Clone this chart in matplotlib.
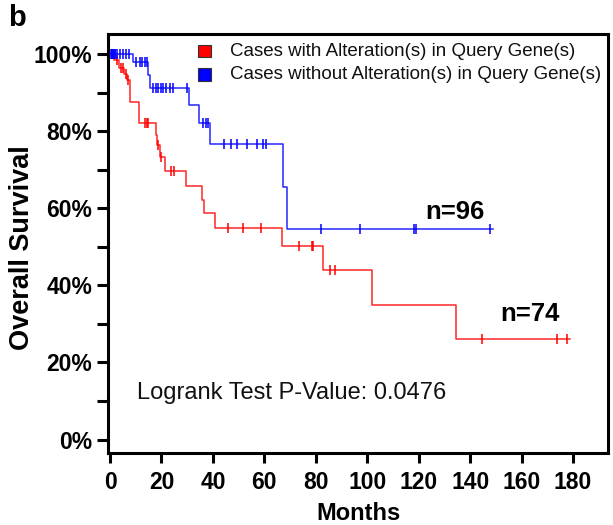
import numpy as np
import matplotlib
matplotlib.use("Agg")
import matplotlib.pyplot as plt
from matplotlib.patches import Rectangle

plt.rcParams['font.family'] = ['Liberation Sans', 'DejaVu Sans']

# ---- data (months, survival %) ----
red_event_t = [1.5, 3.4, 5.6, 6.8, 7.8, 11.4, 17.9, 18.4, 19.4, 21.4, 29.6, 35.7,
               36.5, 40.8, 66.8, 82.7, 101.7, 134.5]
red_event_s = [98.6, 96.4, 95.0, 93.4, 87.7, 82.1, 79.0, 76.5, 73.4, 69.7, 65.9, 62.2,
               58.7, 54.8, 50.2, 43.9, 34.9, 26.1]
red_end = 179.0
red_cens = [2.8, 4.4, 5.2, 6.2, 7.1, 13.6, 14.3, 14.9, 18.8, 20.0, 23.7, 24.9, 45.8,
            51.8, 58.8, 73.5, 78.4, 78.9, 85.5, 87.6, 144.6, 173.7, 177.6]

blue_event_t = [9.1, 14.9, 15.6, 30.8, 34.7, 38.9, 67.4, 68.7]
blue_event_s = [97.9, 94.6, 91.3, 86.8, 82.2, 76.7, 65.6, 54.6]
blue_end = 149.0
blue_cens = [0.3, 0.6, 0.9, 1.2, 1.5, 1.8, 2.1, 2.8, 3.9, 5.2, 6.1, 7.4, 10.0, 11.7,
             12.6, 13.5, 14.3, 16.7, 17.8, 18.8, 19.7, 20.6, 21.7, 23.3, 24.4, 30.1,
             36.0, 37.3, 38.2, 44.3, 46.9, 49.3, 53.1, 57.0, 59.6, 60.5, 81.9, 97.2,
             118.3, 119.0, 147.7]

legend_labels = ["Cases with Alteration(s) in Query Gene(s)",
                 "Cases without Alteration(s) in Query Gene(s)"]
x_ticks = [0, 20, 40, 60, 80, 100, 120, 140, 160, 180]
y_ticks = [0, 20, 40, 60, 80, 100]
y_tick_labels = ["0%", "20%", "40%", "60%", "80%", "100%"]

RED = '#ff0000'
BLUE = '#0000ff'

fig = plt.figure(figsize=(6.13, 5.25), dpi=100)
ax = fig.add_axes([108/613, 1-453/525, (608-108)/613, (453-34)/525])


def km(ax, et, es, end, cens, color):
    t = np.array([0] + list(et) + [end])
    s = np.array([100] + list(es) + [es[-1]])
    ax.step(t, s, where='post', color=color, lw=1.1, alpha=0.85, zorder=3)
    ct = np.array(cens)
    idx = np.searchsorted(t, ct, side='right') - 1
    ax.plot(ct, s[idx], ls='none', marker='|', ms=7, mew=1.1, color=color, zorder=4)


km(ax, red_event_t, red_event_s, red_end, red_cens, RED)
km(ax, blue_event_t, blue_event_s, blue_end, blue_cens, BLUE)

ax.set_xlim(-0.78, 193.6)
ax.set_ylim(-3.5, 105.3)
ax.set_xticks(x_ticks)
ax.set_xticklabels([str(v) for v in x_ticks], fontsize=16.5, fontweight='bold')
ax.set_yticks(y_ticks)
ax.set_yticklabels(y_tick_labels, fontsize=16.5, fontweight='bold')
ax.set_yticks(np.arange(10, 100, 20), minor=True)
ax.tick_params(axis='y', which='both', length=8, width=2.2, pad=3.5, direction='out')
ax.tick_params(axis='x', which='major', length=7, width=2.2, pad=6, direction='out')
for sp in ax.spines.values():
    sp.set_linewidth(2.2)
    sp.set_color('black')

ax.set_xlabel("Months", fontsize=17, fontweight='bold', labelpad=6)
ax.set_ylabel("Overall Survival", fontsize=19.5, fontweight='bold')
ax.yaxis.set_label_coords(-0.146, 0.49)

ax.text(134, 56.0, "n=96", fontsize=18.5, fontweight='bold', ha='center', va='bottom')
ax.text(163.3, 29.5, "n=74", fontsize=18.5, fontweight='bold', ha='center', va='bottom')
ax.text(10.5, 12.1, "Logrank Test P-Value: 0.0476", fontsize=17, ha='left', va='center',
        color='#111111')

# legend (figure pixel placement)
for i, (lab, col) in enumerate(zip(legend_labels, [RED, BLUE])):
    yc = 51 + i * 23.5
    fig.patches.append(Rectangle((198/613, 1-(yc+6)/525), 13/613, 12/525,
                                 transform=fig.transFigure, facecolor=col,
                                 edgecolor='#333333', lw=0.8))
    fig.text(230/613, 1-yc/525, lab, fontsize=13.5, ha='left', va='center',
             color='#111111')

fig.text(8/613, 1-4/525, "b", fontsize=21, fontweight='bold', ha='left', va='top')

fig.savefig("out.png", dpi=100)
